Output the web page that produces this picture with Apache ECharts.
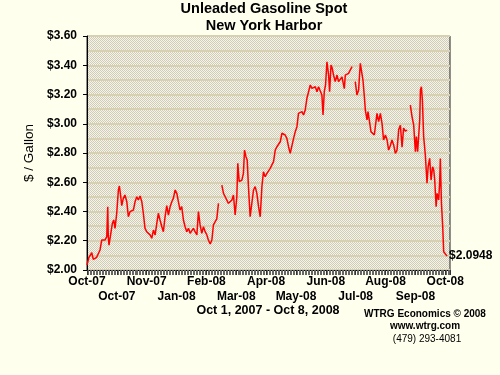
<!DOCTYPE html>
<html><head><meta charset="utf-8">
<script src="https://cdn.jsdelivr.net/npm/echarts@6/dist/echarts.min.js"></script>
<style>html,body{margin:0;padding:0;background:#ffffee;}#c{width:500px;height:375px;}</style>
</head><body><div id="c"></div>
<script>
// tick labels along the date axis, two staggered rows
const tickLabels = ['Oct-07','Oct-07','Nov-07','Jan-08','Feb-08','Mar-08','Apr-08','May-08','Jun-08','Jul-08','Aug-08','Sep-08','Oct-08'];
const labelStep = 21.3; // trading days between labels
const totalDays = 259;

// trading day index (from Oct 1, 2007) and spot price ($/gallon); null = no quote
const tradingDay = [
 0,1.4,3.4,4.5,6.9,8.1,9.3,10.5,11.6,12.9,14.1,14.8,15.2,15.7,17.1,18.1,19.1,20.0,21.2,22.4,
 23.1,24.1,24.8,25.9,27.1,28.4,29.5,30.7,31.9,33.1,34.3,35.5,36.6,37.9,39.1,40.2,41.4,42.6,43.8,45.0,
 46.2,47.4,48.6,49.8,50.9,52.1,53.4,54.5,55.7,56.9,58.1,59.3,60.5,61.6,62.9,64.1,65.2,66.4,67.6,68.8,
 70.0,71.2,72.4,73.6,74.8,75.9,77.1,78.4,79.5,80.7,81.9,83.1,84.3,85.5,86.6,87.9,89.1,90.2,91.4,92.6,
 93.8,95.0,
 96.2,97.4,98.6,99.8,100.9,102.1,103.4,104.5,105.7,106.9,107.6,108.6,109.5,110.5,111.6,112.4,113.4,114.3,115.2,116.4,
 117.6,118.8,120.0,121.2,122.4,123.6,124.8,125.9,127.1,128.4,129.5,130.7,131.9,133.1,134.3,135.5,136.6,137.9,139.1,140.2,
 141.4,142.6,143.8,145.0,146.2,147.4,148.6,149.8,150.9,152.1,153.4,154.5,155.7,156.9,158.1,159.3,160.5,161.6,162.9,164.1,
 165.2,166.4,167.6,168.4,169.3,170.2,171.2,172.4,173.1,174.1,175.0,175.9,177.1,178.4,179.5,180.7,181.9,183.6,184.3,185.5,
 186.6,187.9,189.1,190.5,
 191.4,192.6,193.8,195.0,196.2,196.9,197.9,198.6,199.8,200.5,201.4,202.6,203.8,205.0,206.2,206.9,208.1,209.3,210.5,211.6,
 212.9,214.1,215.2,216.4,217.6,218.8,220.0,221.2,222.4,223.6,224.8,225.9,227.1,228.4,229.5,
 230.7,231.9,233.1,234.3,235.0,235.9,236.6,237.4,237.9,238.6,239.3,240.2,241.4,242.6,243.4,244.5,245.5,246.6,247.4,248.1,
 249.1,249.8,250.9,251.6,252.1,252.9,253.8,254.5,255.7,256.9
];
const price = [
 2.034,2.087,2.118,2.073,2.087,2.100,2.137,2.205,2.217,2.205,2.228,2.433,2.228,2.170,2.170,2.319,2.342,2.285,2.388,2.547,
 2.574,2.501,2.440,2.490,2.513,2.467,2.364,2.399,2.388,2.410,2.467,2.501,2.479,2.506,2.467,2.388,2.285,2.262,2.251,2.240,
 2.217,2.273,2.240,2.319,2.388,2.342,2.296,2.262,2.364,2.440,2.376,2.433,2.467,2.490,2.547,2.524,2.467,2.410,2.433,2.342,
 2.296,2.262,2.285,2.251,2.240,2.285,2.262,2.240,2.399,2.308,2.251,2.296,2.262,2.240,2.205,2.178,2.205,2.308,2.319,2.350,
 2.456,null,
 2.581,2.524,2.501,2.513,2.456,2.467,2.479,2.513,2.376,2.501,2.730,2.604,2.593,2.615,2.661,2.820,2.775,2.752,2.570,2.364,
 2.456,2.547,2.570,2.524,2.433,2.364,2.570,2.672,2.638,2.661,2.650,2.695,2.706,2.741,2.820,2.843,2.855,2.877,2.935,2.946,
 2.923,2.900,2.843,2.797,2.786,2.900,2.946,2.980,3.071,3.060,3.083,3.060,3.094,3.174,3.219,3.265,3.242,3.231,3.253,3.219,
 3.253,3.265,3.197,3.060,3.219,3.265,3.424,3.333,3.219,3.402,3.379,3.333,3.288,3.333,3.288,3.300,3.320,3.240,3.333,3.335,
 3.345,3.368,3.390,null,
 3.288,3.197,3.231,3.413,3.402,3.299,3.185,3.094,3.026,3.083,3.026,2.946,2.935,2.923,2.912,3.071,3.014,3.071,3.003,2.889,
 2.923,2.889,2.820,2.850,2.889,2.855,2.797,2.820,2.960,2.990,2.840,2.970,2.950,2.957,null,
 3.128,3.049,2.990,2.809,2.912,2.809,2.820,3.026,3.231,3.253,3.162,2.912,2.786,2.593,2.706,2.763,2.615,2.706,2.684,2.615,
 2.433,2.524,2.479,2.593,2.763,2.456,2.296,2.125,2.114,2.0948
];
const yMin = 2.0, yMax = 3.6, yStep = 0.2;

// dotted plot-area fill
const pc = document.createElement('canvas');
pc.width = 2; pc.height = 2;
const g = pc.getContext('2d');
g.fillStyle = '#f6f4e4'; g.fillRect(0,0,2,2);
g.fillStyle = '#cfccbc'; g.fillRect(0,0,1,1); g.fillRect(1,1,1,1);

const seriesData = tradingDay.map((d, i) => [d, price[i] === null ? '-' : price[i]]);

function rowLabel(row) {
  return function (v) {
    const i = Math.round(v / labelStep);
    if (i > 12 || Math.abs(v - i * labelStep) > 0.05 || i % 2 !== row) return '';
    return tickLabels[i];
  };
}
const labelFont = {color: '#000', fontWeight: 'bold', fontSize: 12, fontFamily: 'Liberation Sans'};
const tStyle = (size, weight) => ({fontSize: size, fontWeight: weight, color: '#000', fontFamily: 'Liberation Sans'});

const chart = echarts.init(document.getElementById('c'), null, {renderer: 'canvas'});
chart.setOption({
  backgroundColor: '#ffffee',
  animation: false,
  textStyle: {fontFamily: 'Liberation Sans, Arial, sans-serif'},
  title: [
    {text: 'Unleaded Gasoline Spot\nNew York Harbor', left: 264, top: 0, padding: 0, textAlign: 'center',
     textStyle: Object.assign(tStyle(14.5, 'bold'), {lineHeight: 17})},
    {text: 'Oct 1, 2007 - Oct 8, 2008', left: 268, top: 304, padding: 0, textAlign: 'center', textStyle: tStyle(12.5, 'bold')},
    {text: 'WTRG Economics \u00a9 2008', left: 425, top: 309, padding: 0, textAlign: 'center', textStyle: tStyle(10, 'bold')},
    {text: 'www.wtrg.com', left: 425, top: 321, padding: 0, textAlign: 'center', textStyle: tStyle(10, 'bold')},
    {text: '(479) 293-4081', left: 427, top: 334, padding: 0, textAlign: 'center', textStyle: tStyle(10, 'normal')}
  ],
  grid: {
    left: 87, right: 50, top: 36, bottom: 105,
    show: true,
    backgroundColor: {image: pc, repeat: 'repeat'},
    borderColor: '#222', borderWidth: 1
  },
  xAxis: [{
    type: 'value', min: 0, max: totalDays, interval: labelStep,
    axisLine: {show: true, onZero: false, lineStyle: {color: '#000', width: 1}},
    axisTick: {show: true, length: 5, lineStyle: {color: '#333'}},
    minorTick: {show: true, splitNumber: 20, length: 5, lineStyle: {color: '#666'}},
    splitLine: {show: false},
    axisLabel: Object.assign({margin: 6, formatter: rowLabel(0)}, labelFont)
  }, {
    type: 'value', min: 0, max: totalDays, interval: labelStep, position: 'bottom',
    axisLine: {show: false, onZero: false},
    axisTick: {show: false},
    splitLine: {show: false},
    axisLabel: Object.assign({margin: 21, formatter: rowLabel(1)}, labelFont)
  }],
  yAxis: {
    type: 'value', min: yMin, max: yMax, interval: yStep,
    name: '$ / Gallon', nameLocation: 'middle', nameGap: 42, nameRotate: 90,
    nameTextStyle: tStyle(13.5, 'normal'),
    axisLine: {show: true, lineStyle: {color: '#000', width: 1}},
    axisTick: {show: true, length: 4, lineStyle: {color: '#000'}},
    axisLabel: Object.assign({margin: 10, formatter: v => '$' + v.toFixed(2)}, labelFont),
    splitLine: {show: true, lineStyle: {color: '#d8d0b2', width: 2}},
    minorTick: {show: false, splitNumber: 2},
    minorSplitLine: {show: true, lineStyle: {color: '#d8d0b2', width: 2}}
  },
  series: [{
    type: 'line',
    xAxisIndex: 0,
    data: seriesData,
    showSymbol: false,
    connectNulls: false,
    lineStyle: {color: '#ff0000', width: 1.5},
    itemStyle: {color: '#ff0000'},
    endLabel: Object.assign({show: true, distance: 2,
      formatter: p => '$' + p.value[1].toFixed(4)}, labelFont)
  }]
});
</script></body></html>
